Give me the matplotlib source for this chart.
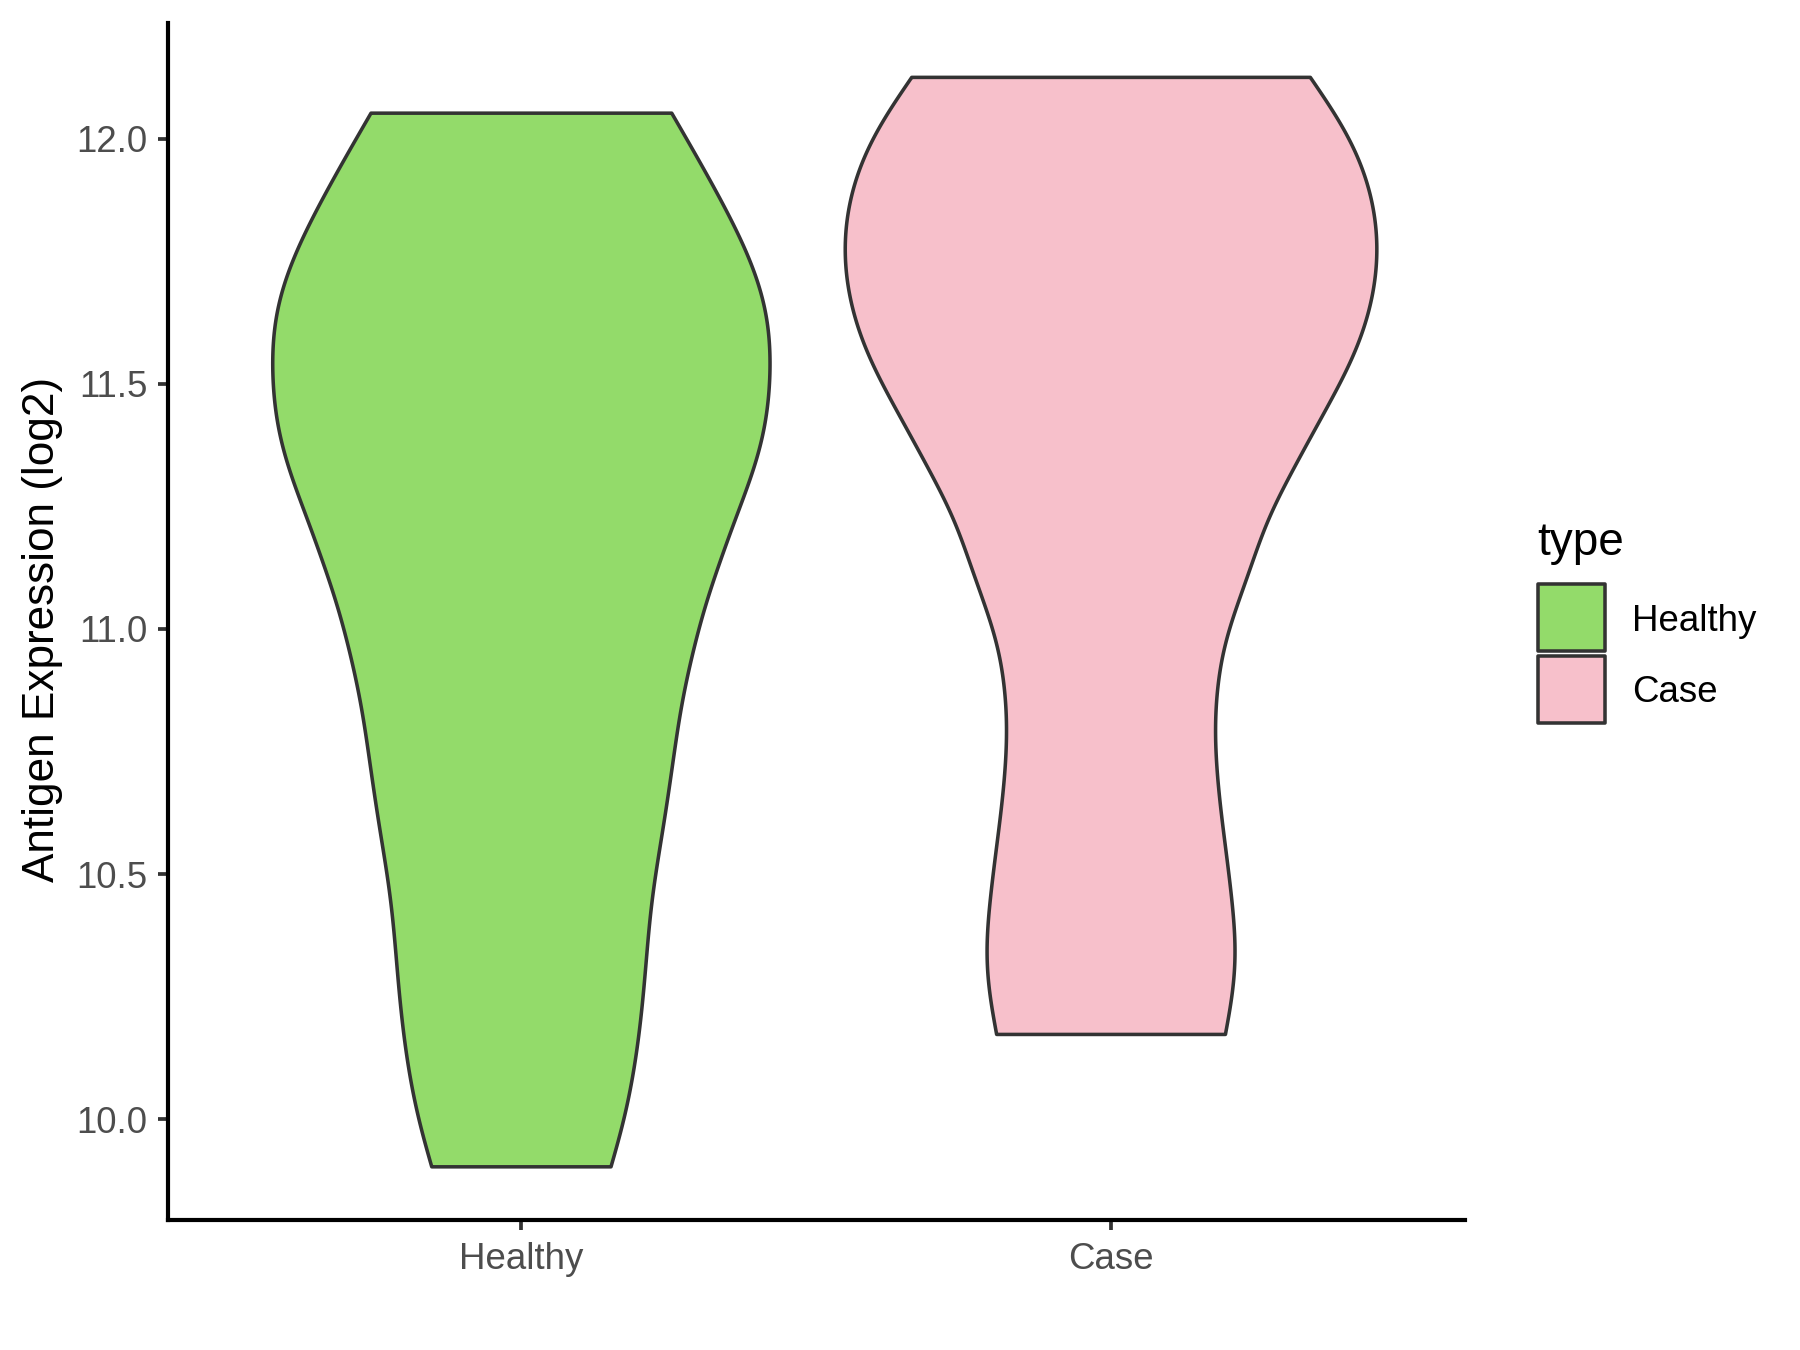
import numpy as np
import matplotlib
matplotlib.use("Agg")
import matplotlib.pyplot as plt
from matplotlib.patches import Rectangle

plt.rcParams['font.family'] = ['Liberation Sans', 'DejaVu Sans']

# ---- data ----
categories = ["Healthy", "Case"]
colors = ["#93DB6A", "#F7C0CB"]

# violin profiles: y level (log2 expression) and half-width (x units)
healthy_y = [9.903, 9.985, 10.046, 10.175, 10.311, 10.454, 10.583, 10.719,
             10.855, 10.978, 11.063, 11.141, 11.209, 11.277, 11.345, 11.413,
             11.481, 11.549, 11.627, 11.727, 11.856, 12.052]
healthy_w = [0.152, 0.1715, 0.183, 0.200, 0.211, 0.222, 0.239, 0.256,
             0.273, 0.296, 0.3155, 0.338, 0.358, 0.380, 0.400, 0.414,
             0.421, 0.423, 0.419, 0.397, 0.347, 0.255]

case_y = [10.173, 10.250, 10.332, 10.427, 10.529, 10.631, 10.733, 10.801,
          10.882, 10.978, 11.059, 11.144, 11.223, 11.290, 11.359, 11.427,
          11.494, 11.563, 11.631, 11.774, 11.903, 12.006, 12.125]
case_w = [0.194, 0.206, 0.212, 0.207, 0.197, 0.186, 0.178, 0.176,
          0.180, 0.194, 0.217, 0.2423, 0.265, 0.293, 0.324, 0.355,
          0.386, 0.4145, 0.435, 0.453, 0.438, 0.403, 0.338]

profiles = [(healthy_y, healthy_w), (case_y, case_w)]
yticks = [10.0, 10.5, 11.0, 11.5, 12.0]
ytick_labels = ["10.0", "10.5", "11.0", "11.5", "12.0"]


def spline(x, f, n=800):
    """Natural cubic spline through the read outline points (for a smooth edge)."""
    x = np.asarray(x, float)
    f = np.asarray(f, float)
    N = len(x)
    h = np.diff(x)
    A = np.zeros((N, N))
    b = np.zeros(N)
    A[0, 0] = A[-1, -1] = 1.0
    for i in range(1, N - 1):
        A[i, i - 1] = h[i - 1]
        A[i, i] = 2 * (h[i - 1] + h[i])
        A[i, i + 1] = h[i]
        b[i] = 6 * ((f[i + 1] - f[i]) / h[i] - (f[i] - f[i - 1]) / h[i - 1])
    M = np.linalg.solve(A, b)
    xs = np.linspace(x[0], x[-1], n)
    k = np.clip(np.searchsorted(x, xs) - 1, 0, N - 2)
    x0, x1 = x[k], x[k + 1]
    hk = h[k]
    a = (x1 - xs) / hk
    c = (xs - x0) / hk
    ys = (a * f[k] + c * f[k + 1]
          + ((a ** 3 - a) * M[k] + (c ** 3 - c) * M[k + 1]) * hk ** 2 / 6)
    return xs, ys


def soften(xs, ys, sigma=0.05):
    """Light Gaussian smoothing of the outline to remove reading noise."""
    dx = xs[1] - xs[0]
    r = int(4 * sigma / dx)
    k = np.exp(-0.5 * (np.arange(-r, r + 1) * dx / sigma) ** 2)
    k /= k.sum()
    # point-reflection padding keeps the ends in place
    left = 2 * ys[0] - ys[1:r + 1][::-1]
    right = 2 * ys[-1] - ys[-r - 1:-1][::-1]
    padded = np.concatenate([left, ys, right])
    return np.convolve(padded, k, mode="valid")


fig = plt.figure(figsize=(6, 4.5), dpi=300)
ax = fig.add_axes([0.0931, 0.0961, 0.8138 - 0.0931, 0.983 - 0.0961])

for i, ((py, pw), col) in enumerate(zip(profiles, colors)):
    xc = i + 1
    sy, sw = spline(py, pw)
    sw = soften(sy, sw)
    xs = np.concatenate([xc - sw, (xc + sw)[::-1]])
    ys = np.concatenate([sy, sy[::-1]])
    ax.fill(xs, ys, facecolor=col, edgecolor="#333333", linewidth=0.85,
            joinstyle="round", zorder=2)

ax.set_xlim(0.4, 2.6)
ax.set_ylim(9.794, 12.236)
ax.set_xticks([1, 2])
ax.set_xticklabels(categories)
ax.set_yticks(yticks)
ax.set_yticklabels(ytick_labels)

for s in ["top", "right"]:
    ax.spines[s].set_visible(False)
for s in ["left", "bottom"]:
    ax.spines[s].set_linewidth(1.0)
    ax.spines[s].set_color("black")

ax.tick_params(axis="both", direction="out", length=2.3, width=0.9,
               color="#333333", labelcolor="#4D4D4D", labelsize=8.8)
ax.tick_params(axis="y", pad=2.5)
ax.tick_params(axis="x", pad=3)

fig.text(43 / 1800, 1 - 629 / 1350, "Antigen Expression (log2)", rotation=90,
         ha="center", va="center", fontsize=10.6, color="black")

# legend drawn in figure coords
fig.text(1537 / 1800, 1 - 555 / 1350, "type", ha="left", va="baseline",
         fontsize=11, color="black")
key_x, key_w, key_h = 1538, 67, 67
key_tops = [584, 656]
label_baselines = [631, 702]
for top, base, col, lab in zip(key_tops, label_baselines, colors, categories):
    fig.patches.append(Rectangle((key_x / 1800, 1 - (top + key_h) / 1350),
                                 key_w / 1800, key_h / 1350,
                                 transform=fig.transFigure, facecolor=col,
                                 edgecolor="#333333", linewidth=0.85,
                                 joinstyle="round"))
    fig.text(1632 / 1800, 1 - base / 1350, lab, ha="left",
             va="baseline", fontsize=8.8, color="black")

fig.savefig("out.png", dpi=300, facecolor="white")
